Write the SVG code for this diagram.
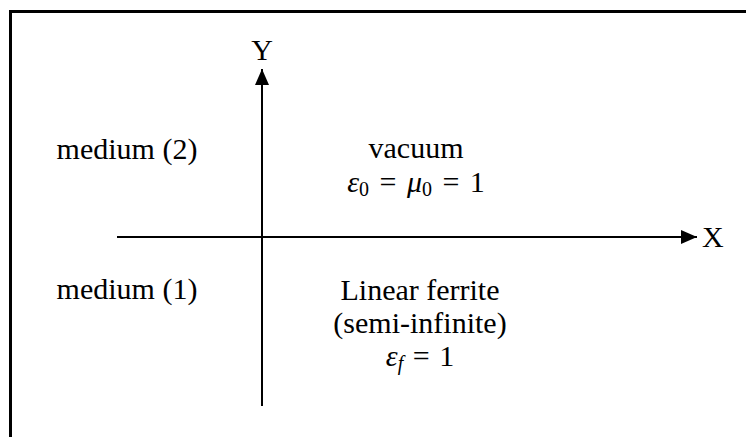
<svg xmlns="http://www.w3.org/2000/svg" width="746" height="437" viewBox="0 0 746 437">
<style>
text{font-family:"Liberation Serif","Times New Roman",serif;font-size:30px;fill:#000}
.c{text-anchor:middle}
.i{font-style:italic}
.sub{font-size:20px}
.ax{stroke:#000;stroke-width:2;fill:none}
</style>
<defs>
<marker id="ah" viewBox="0 0 16 14" refX="16" refY="7" markerWidth="16" markerHeight="14" markerUnits="userSpaceOnUse" orient="auto">
<path d="M0,0 L16,7 L0,14 Z" fill="#000"/>
</marker>
</defs>
<rect width="746" height="437" fill="#fff"/>
<path d="M10.5,437 V11.5 H746" fill="none" stroke="#000" stroke-width="3"/>
<g id="connectors">
<line class="ax" x1="117" y1="237" x2="697" y2="237" marker-end="url(#ah)"/>
<line class="ax" x1="262" y1="406" x2="262" y2="69" marker-end="url(#ah)"/>
</g>
<g id="axis-x"><text x="702" y="247">X</text></g>
<g id="axis-y"><text class="c" x="262" y="60">Y</text></g>
<g id="medium2"><text class="c" x="127" y="159">medium (2)</text></g>
<g id="medium1"><text class="c" x="127" y="299">medium (1)</text></g>
<g id="vacuum">
<text class="c" x="416" y="158">vacuum</text>
<text class="c" x="416" y="192"><tspan class="i">ε</tspan><tspan class="sub" dy="4">0</tspan><tspan dy="-4" dx="3"> = </tspan><tspan class="i" dx="3">μ</tspan><tspan class="sub" dy="4">0</tspan><tspan dy="-4" dx="3"> = </tspan><tspan dx="3">1</tspan></text>
</g>
<g id="ferrite">
<text class="c" x="420" y="300">Linear ferrite</text>
<text class="c" x="420" y="333">(semi-infinite)</text>
<text class="c" x="420" y="366"><tspan class="i">ε</tspan><tspan class="sub i" dy="4">f</tspan><tspan dy="-4" dx="2"> = </tspan><tspan dx="2">1</tspan></text>
</g>
</svg>
